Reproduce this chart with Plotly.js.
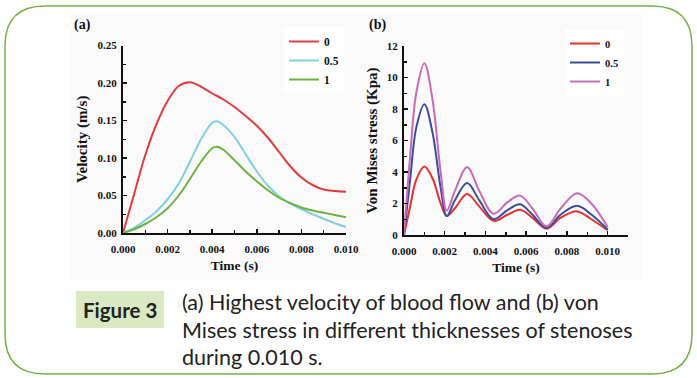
<!DOCTYPE html>
<html>
<head>
<meta charset="utf-8">
<script src="https://cdn.plot.ly/plotly-3.0.1.min.js"></script>
<style>html,body{margin:0;padding:0;background:#fff;}#chart{width:697px;height:378px;}</style>
</head>
<body>
<div id="chart"></div>
<script>
// ---- Data: panel (a) velocity (m/s) vs time (s) ----
const timeA = [0,0.0005,0.001,0.0015,0.002,0.0025,0.003,0.0035,0.004,0.0042,0.0045,0.005,0.0055,0.006,0.0065,0.007,0.0075,0.008,0.0085,0.009,0.0095,0.010];
const velocity0   = [0,0.052,0.104,0.145,0.176,0.196,0.201,0.195,0.186,0.183,0.178,0.168,0.156,0.143,0.127,0.108,0.089,0.074,0.064,0.058,0.056,0.055];
const velocity05  = [0,0.007,0.017,0.029,0.045,0.066,0.095,0.125,0.147,0.149,0.144,0.128,0.105,0.082,0.063,0.049,0.039,0.032,0.025,0.019,0.013,0.008];
const velocity1   = [0,0.005,0.012,0.021,0.033,0.050,0.072,0.095,0.113,0.115,0.111,0.097,0.082,0.069,0.057,0.047,0.040,0.034,0.030,0.027,0.024,0.021];

// ---- Data: panel (b) von Mises stress (Kpa) vs time (s) ----
const timeB = [0,0.0003,0.0006,0.001,0.0014,0.0018,0.0021,0.0025,0.0031,0.0037,0.0044,0.0051,0.0057,0.0063,0.0070,0.0077,0.0085,0.0092,0.0100];
const stress0  = [0,1.8,3.5,4.35,3.6,2.0,1.2,1.7,2.6,1.8,0.9,1.3,1.6,1.1,0.4,1.1,1.5,1.0,0.3];
const stress05 = [0,3.5,6.8,8.3,6.5,3.0,1.2,2.2,3.3,2.2,1.0,1.6,1.95,1.3,0.45,1.3,1.85,1.3,0.35];
const stress1  = [0,5.0,9.0,10.9,8.6,4.0,1.55,2.8,4.3,2.8,1.35,2.1,2.5,1.7,0.55,1.7,2.65,2.0,0.5];

const seriesNames = ['0','0.5','1'];
const ticksA = [0,0.002,0.004,0.006,0.008,0.010];
const tickTextA = ['0.000','0.002','0.004','0.006','0.008','0.010'];
const ticksYA = [0,0.05,0.10,0.15,0.20,0.25];
const tickTextYA = ['0.00','0.05','0.10','0.15','0.20','0.25'];
const ticksYB = [0,2,4,6,8,10,12];

const W = 697, H = 378;
const px = x => x / W;
const py = y => 1 - y / H;

const serif = 'Liberation Serif, Times New Roman, serif';
const tickFont = {family: serif, size: 11, color: '#111', weight: 'bold'};
const titleFontY = {family: serif, size: 15, color: '#111', weight: 'bold'};
const titleFontX = {family: serif, size: 13.5, color: '#111', weight: 'bold'};

const colA = ['#e23c3e', '#7fd0e0', '#6db33f'];
const colB = ['#e8302c', '#3b4c9c', '#c86ab6'];

const data = [
  {x: timeA, y: velocity0, name: seriesNames[0], line: {color: colA[0], width: 2, shape: 'spline'}, mode: 'lines', xaxis: 'x', yaxis: 'y', legend: 'legend'},
  {x: timeA, y: velocity05, name: seriesNames[1], line: {color: colA[1], width: 2, shape: 'spline'}, mode: 'lines', xaxis: 'x', yaxis: 'y', legend: 'legend'},
  {x: timeA, y: velocity1, name: seriesNames[2], line: {color: colA[2], width: 2, shape: 'spline'}, mode: 'lines', xaxis: 'x', yaxis: 'y', legend: 'legend'},
  {x: timeB, y: stress0, name: seriesNames[0], line: {color: colB[0], width: 2, shape: 'spline'}, mode: 'lines', xaxis: 'x2', yaxis: 'y2', legend: 'legend2'},
  {x: timeB, y: stress05, name: seriesNames[1], line: {color: colB[1], width: 2, shape: 'spline'}, mode: 'lines', xaxis: 'x2', yaxis: 'y2', legend: 'legend2'},
  {x: timeB, y: stress1, name: seriesNames[2], line: {color: colB[2], width: 2, shape: 'spline'}, mode: 'lines', xaxis: 'x2', yaxis: 'y2', legend: 'legend2'}
];

const axisCommon = {
  showgrid: false, zeroline: false, showline: true, linecolor: '#111', linewidth: 2,
  ticks: 'inside', ticklen: 4, tickwidth: 1.5, tickcolor: '#111', tickfont: tickFont,
  fixedrange: true
};

// rounded border path
function roundRect(x0, y0, x1, y1, r) {
  const rx = r / W, ry = r / H;
  const X0 = px(x0), X1 = px(x1), Y0 = py(y0), Y1 = py(y1);
  return `M ${X0 + rx} ${Y0} L ${X1 - rx} ${Y0} Q ${X1} ${Y0} ${X1} ${Y0 - ry} L ${X1} ${Y1 + ry} Q ${X1} ${Y1} ${X1 - rx} ${Y1} L ${X0 + rx} ${Y1} Q ${X0} ${Y1} ${X0} ${Y1 + ry} L ${X0} ${Y0 - ry} Q ${X0} ${Y0} ${X0 + rx} ${Y0} Z`;
}

const captionFont = {family: 'Lato, Open Sans, sans-serif', size: 21.5, color: '#222'};
const ann = (text, x, y, font, xanchor) => ({
  text, xref: 'paper', yref: 'paper', x: px(x), y: py(y), showarrow: false,
  xanchor: xanchor || 'center', yanchor: 'middle', font
});

const layout = {
  width: W, height: H,
  margin: {l: 0, r: 0, t: 0, b: 0},
  paper_bgcolor: '#ffffff', plot_bgcolor: 'rgba(0,0,0,0)',
  showlegend: true,
  xaxis: Object.assign({}, axisCommon, {
    domain: [px(123), px(346)], range: [0, 0.010], anchor: 'y',
    tickvals: ticksA, ticktext: tickTextA, ticklabelstandoff: 5,
    minor: {dtick: 0.001, ticks: 'inside', ticklen: 3, tickcolor: '#111', tickwidth: 1.5},
    title: {text: 'Time (s)', font: titleFontX, standoff: 6}
  }),
  yaxis: Object.assign({}, axisCommon, {
    domain: [py(233), py(45.5)], range: [0, 0.25], anchor: 'x',
    tickvals: ticksYA, ticktext: tickTextYA, ticklabelstandoff: 2,
    minor: {dtick: 0.025, ticks: 'inside', ticklen: 3, tickcolor: '#111', tickwidth: 1.5},
    title: {text: 'Velocity (m/s)', font: titleFontY, standoff: 6}
  }),
  xaxis2: Object.assign({}, axisCommon, {
    domain: [px(404), px(628)], range: [0, 0.011], anchor: 'y2',
    tickvals: ticksA, ticktext: tickTextA, ticklabelstandoff: 5,
    minor: {dtick: 0.001, ticks: 'inside', ticklen: 3, tickcolor: '#111', tickwidth: 1.5},
    title: {text: 'Time (s)', font: titleFontX, standoff: 6}
  }),
  yaxis2: Object.assign({}, axisCommon, {
    domain: [py(235), py(46)], range: [0, 12], anchor: 'x2',
    tickvals: ticksYB, ticklabelstandoff: 2,
    minor: {dtick: 1, ticks: 'inside', ticklen: 3, tickcolor: '#111', tickwidth: 1.5},
    title: {text: 'Von Mises stress (Kpa)', font: titleFontY, standoff: 6}
  }),
  legend: {
    x: px(284), y: py(27), xanchor: 'left', yanchor: 'top',
    bgcolor: '#ffffff', borderwidth: 0,
    font: {family: serif, size: 11.5, color: '#111', weight: 'bold'},
    tracegroupgap: 0, itemclick: false, itemdoubleclick: false
  },
  legend2: {
    x: px(565), y: py(29), xanchor: 'left', yanchor: 'top',
    bgcolor: '#ffffff', borderwidth: 0,
    font: {family: serif, size: 10.5, color: '#111', weight: 'bold'},
    tracegroupgap: 0, itemclick: false, itemdoubleclick: false
  },
  shapes: [
    {type: 'rect', xref: 'paper', yref: 'paper', x0: px(70), x1: px(642), y0: py(280), y1: py(13),
     fillcolor: '#fafafa', line: {width: 0}, layer: 'below'},
    {type: 'path', xref: 'paper', yref: 'paper', path: roundRect(5, 6, 692, 374, 40),
     line: {color: '#77b043', width: 1.5}, fillcolor: 'rgba(0,0,0,0)', layer: 'below'},
    {type: 'rect', xref: 'paper', yref: 'paper', x0: px(76), x1: px(164), y0: py(328), y1: py(291),
     fillcolor: '#dae9c4', line: {width: 0}, layer: 'below'}
  ],
  annotations: [
    ann('<b>(a)</b>', 82, 25, {family: serif, size: 14, color: '#111'}),
    ann('<b>(b)</b>', 377, 25, {family: serif, size: 14, color: '#111'}),
    ann('<b>Figure 3</b>', 120, 310, {family: 'Lato, Open Sans, sans-serif', size: 20.5, color: '#222'}),
    ann('(a) Highest velocity of blood flow and (b) von', 180, 302, captionFont, 'left'),
    ann('Mises stress in different thicknesses of stenoses', 180, 330, captionFont, 'left'),
    ann('during 0.010 s.', 180, 357, captionFont, 'left')
  ]
};

Plotly.newPlot('chart', data, layout, {displayModeBar: false, staticPlot: true});
</script>
</body>
</html>
